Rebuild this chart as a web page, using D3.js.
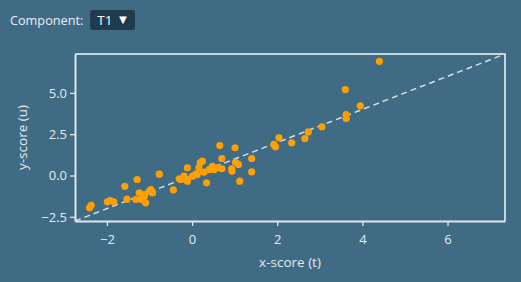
<!DOCTYPE html>
<html>
<head>
<meta charset="utf-8">
<script src="https://cdn.jsdelivr.net/npm/d3@7"></script>
<style>
    html, body {
        margin: 0;
        padding: 0;
        background: #406b84;
        width: 521px;
        height: 282px;
        overflow: hidden;
        font-family: "Open Sans", "Noto Sans", sans-serif;
    }
    #controls {
        position: absolute;
        left: 10px;
        top: 10px;
        height: 20px;
        display: flex;
        align-items: center;
        color: #e8eef2;
        font-size: 12.7px;
    }
    #picker {
        margin-left: 7px;
        background: #1f3b4e;
        border-radius: 3px;
        width: 45px;
        height: 20px;
        box-sizing: border-box;
        padding-left: 7px;
        color: #ffffff;
        font-size: 13.5px;
        line-height: 20px;
        position: relative;
    }
    #picker span.arrow {
        position: absolute;
        right: 6px;
        top: -1px;
        font-size: 13px;
    }
    #svg {
        position: absolute;
        left: 0;
        top: 0;
    }
</style>
</head>
<body>
<div id="controls">Component:<div id="picker">T1<span class="arrow">▼</span></div></div>
<svg id="svg"></svg>
<script>
// x-scores (t) and y-scores (u) for component T1
const tScores = [
    -2.41, -2.37, -1.99, -1.84, -1.92, -1.58, -1.29, -1.53, -1.32, -1.24,
    -1.12, -1.01, -0.93, -1.09, -1.20, -0.97, -1.12, -0.77, -0.44, -0.30,
    -0.19, -0.11, -0.11, 0.01, 0.09, 0.16, 0.19, 0.24, 0.65, 1.01,
    0.70, 1.40, 0.48, 0.59, 0.70, 0.40, 0.93, 0.94, 1.09, 1.02,
    1.40, -0.11, -0.26, 0.34, 1.12, 0.28, 2.73, 2.65, 2.04, 1.92,
    1.96, 2.34, 3.05, 3.62, 3.62, 3.95, 3.60, 4.40, 0.12, 0.52
];
const uScores = [
    -1.95, -1.80, -1.59, -1.59, -1.51, -0.65, -0.24, -1.43, -1.45, -1.05,
    -1.15, -0.95, -1.05, -1.65, -1.45, -0.85, -1.25, 0.08, -0.87, -0.20,
    -0.04, 0.47, -0.34, -0.04, 0.10, 0.47, 0.77, 0.87, 1.81, 1.68,
    1.03, 1.03, 0.56, 0.47, 0.41, 0.36, 0.41, 0.26, 0.67, 0.80,
    0.22, -0.24, -0.24, -0.44, -0.34, 0.20, 2.64, 2.24, 2.28, 1.88,
    1.74, 1.98, 2.95, 3.69, 3.45, 4.22, 5.20, 6.91, 0.06, 0.36
];
const axisDomain = [-2.75, 7.35];
const xTicks = [-2, 0, 2, 4, 6];
const yTicks = [-2.5, 0, 2.5, 5];

const width = 521;
const height = 282;
const margin = { top: 54, right: 16, bottom: 61, left: 75 };
const chartWidth = width - margin.left - margin.right;
const chartHeight = height - margin.top - margin.bottom;

const textColor = "#e4ebef";
const lineColor = "#dfe7ec";

let svg = d3.select("#svg")
    .attr("width", width)
    .attr("height", height);

let chart = svg.append("g")
    .attr("transform", `translate(${margin.left},${margin.top})`);

let xScale = d3.scaleLinear().domain(axisDomain).range([0, chartWidth]);
let yScale = d3.scaleLinear().domain(axisDomain).range([chartHeight, 0]);

// frame (top and right edges)
chart.append("path")
    .attr("d", `M0,0H${chartWidth}V${chartHeight}`)
    .attr("fill", "none")
    .attr("stroke", "#f4f7f9")
    .attr("stroke-width", 1.5);

// x = y reference line
chart.append("line")
    .attr("x1", xScale(axisDomain[0]))
    .attr("y1", yScale(axisDomain[0]))
    .attr("x2", xScale(axisDomain[1]))
    .attr("y2", yScale(axisDomain[1]))
    .attr("stroke", "#d5dee4")
    .attr("stroke-width", 1.5)
    .attr("stroke-dasharray", "6,4");

// points
let points = tScores.map((t, i) => ({ t: t, u: uScores[i] }));
chart.selectAll("circle.dot")
    .data(points)
    .enter()
    .append("circle")
    .attr("class", "dot")
    .attr("cx", d => xScale(d.t))
    .attr("cy", d => yScale(d.u))
    .attr("r", 3.6)
    .attr("fill", "#ff9f00");

// axes
let xAxis = chart.append("g")
    .attr("transform", `translate(0,${chartHeight})`)
    .call(d3.axisBottom(xScale).tickValues(xTicks).tickSize(5).tickSizeOuter(0).tickFormat(d3.format("d")));

let yAxis = chart.append("g")
    .call(d3.axisLeft(yScale).tickValues(yTicks).tickSize(5).tickSizeOuter(0).tickFormat(d3.format(".1f")));

for (let ax of [xAxis, yAxis]) {
    ax.select(".domain").attr("stroke", lineColor).attr("stroke-width", 2);
    ax.selectAll(".tick line").attr("stroke", lineColor).attr("stroke-width", 1.3);
    ax.selectAll(".tick text")
        .attr("fill", textColor)
        .style("font-family", "'Open Sans', 'Noto Sans', sans-serif")
        .style("font-size", "13px");
}
xAxis.selectAll(".tick text").attr("dy", "1.15em");
yAxis.selectAll(".tick text").attr("x", -8);

// axis titles
svg.append("text")
    .attr("x", margin.left + chartWidth / 2)
    .attr("y", 267)
    .attr("text-anchor", "middle")
    .attr("fill", textColor)
    .style("font-size", "13.5px")
    .text("x-score (t)");

svg.append("text")
    .attr("transform", `translate(27,${margin.top + chartHeight / 2}) rotate(-90)`)
    .attr("text-anchor", "middle")
    .attr("fill", textColor)
    .style("font-size", "13.5px")
    .text("y-score (u)");
</script>
</body>
</html>
